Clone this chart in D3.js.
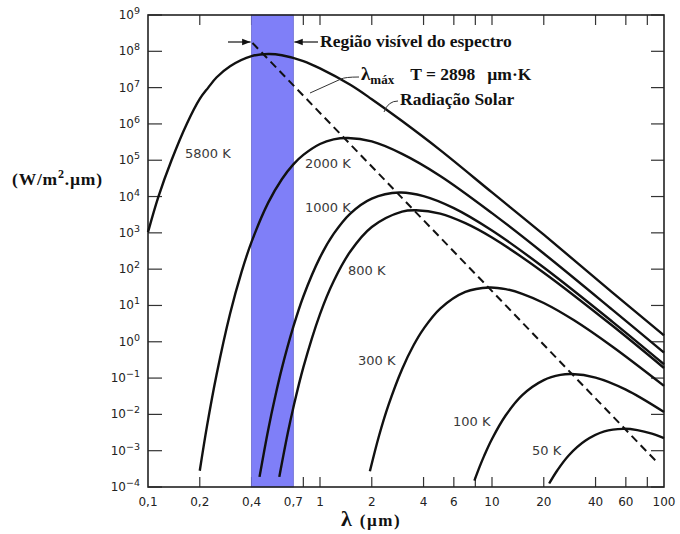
<!DOCTYPE html>
<html>
<head>
<meta charset="utf-8">
<script src="https://cdn.jsdelivr.net/npm/d3@7"></script>
<style>
  body { margin: 0; background: #fff; }
  .tick-lbl { font-family: "DejaVu Sans", sans-serif; font-size: 12px; fill: #222; }
  .curve-lbl { font-family: "DejaVu Sans", sans-serif; font-size: 13px; fill: #3a3a3a; }
  .note { font-family: "Liberation Serif", serif; font-weight: bold; font-size: 17.5px; fill: #111; }
</style>
</head>
<body>
<div class="container"></div>
<script>
// wavelengths (um) and emissive power (W/m2.um)
var lam5800 = [0.1, 0.115, 0.137, 0.168, 0.2, 0.224, 0.25, 0.3, 0.4, 0.5, 0.6, 0.8, 1, 1.5, 2, 3, 5, 10, 20, 50, 100];
var e5800 = [1.05e3, 1e4, 1e5, 1e6, 4.9e6, 1e7, 1.9e7, 3.9e7, 7.4e7, 8.4e7, 7.8e7, 5.4e7, 3.4e7, 1.2e7, 4.8e6, 1.2e6, 1.9e5, 1.3e4, 890, 23, 1.5];

var lam2000 = [0.2, 0.22, 0.25, 0.3, 0.35, 0.4, 0.5, 0.6, 0.7, 0.8, 1, 1.2, 1.45, 2, 3, 5, 10, 20, 50, 100];
var e2000 = [2.8e-4, 4.6e-3, 0.12, 5.9, 84, 565, 6.8e3, 3.0e4, 7.7e4, 1.4e5, 2.8e5, 3.75e5, 4.1e5, 3.3e5, 1.5e5, 3.7e4, 3.5e3, 270, 7.7, 0.5];

var lam1000 = [0.445, 0.5, 0.55, 0.6, 0.7, 0.8, 1, 1.2, 1.5, 2, 2.9, 4, 6, 10, 20, 50, 100];
var e1000 = [1.9e-4, 3.8e-3, 0.032, 0.185, 2.6, 17.7, 211, 933, 3.4e3, 8.8e3, 1.29e4, 1.03e4, 4.8e3, 1.16e3, 111, 3.6, 0.24];

var lam800 = [0.58, 0.65, 0.7, 0.8, 1, 1.2, 1.5, 2, 3, 3.62, 5, 7, 10, 20, 50, 100];
var e800 = [1.9e-4, 3.1e-3, 0.0155, 0.197, 5.8, 46.6, 306, 1.45e3, 3.85e3, 4.2e3, 3.4e3, 1.85e3, 743, 80, 2.8, 0.19];

var lam300 = [1.95, 2.2, 2.5, 3, 3.5, 4, 5, 7, 9.66, 12, 15, 20, 30, 50, 100];
var e300 = [2.7e-4, 2.5e-3, 0.018, 0.176, 0.8, 2.27, 8.2, 23.6, 31.3, 28.2, 21, 11.7, 3.9, 0.74, 0.061];

var lam100 = [7.9, 8.5, 9, 10, 12, 15, 20, 25, 29, 40, 60, 100];
var e100 = [1.5e-4, 3.75e-4, 7.2e-4, 2.1e-3, 9.3e-3, 0.034, 0.088, 0.122, 0.129, 0.103, 0.048, 0.0116];

var lam50 = [21.5, 24, 28, 35, 45, 58, 70, 85, 100];
var e50 = [1.25e-4, 2.9e-4, 7.5e-4, 1.9e-3, 3.4e-3, 4.0e-3, 3.7e-3, 2.96e-3, 2.23e-3];

// Wien displacement line (dashed)
var wienLam = [0.405, 92];
var wienE = [1.7e8, 4.6e-4];

// visible band
var visibleBand = [0.4, 0.7];

var curveNames = ["5800 K", "2000 K", "1000 K", "800 K", "300 K", "100 K", "50 K"];
var xTickLabels = [0.1, 0.2, 0.4, 0.7, 1, 2, 4, 6, 10, 20, 40, 60, 100];
var xTickMarks = [0.2, 0.4, 0.6, 0.8, 1, 2, 4, 6, 8, 10, 20, 40, 60, 80];
var yExponents = [-4, -3, -2, -1, 0, 1, 2, 3, 4, 5, 6, 7, 8, 9];

var svgWidth = 680, svgHeight = 534;
var plot = { left: 148, right: 664, top: 15, bottom: 487 };

var svg = d3.select(".container").append("svg")
    .attr("width", svgWidth)
    .attr("height", svgHeight);

var x = d3.scaleLog().domain([0.1, 100]).range([plot.left, plot.right]);
var y = d3.scaleLog().domain([1e-4, 1e9]).range([plot.bottom, plot.top]);

// ticks (inward)
var tickG = svg.append("g").attr("stroke", "#333").attr("stroke-width", 1.2);
yExponents.forEach(function (p) {
    var yy = y(Math.pow(10, p));
    tickG.append("line").attr("x1", plot.left).attr("x2", plot.left + 14).attr("y1", yy).attr("y2", yy);
    tickG.append("line").attr("x1", plot.right - 13).attr("x2", plot.right).attr("y1", yy).attr("y2", yy);
});
xTickMarks.forEach(function (v) {
    var xx = x(v);
    tickG.append("line").attr("x1", xx).attr("x2", xx).attr("y1", plot.bottom).attr("y2", plot.bottom - 10);
    tickG.append("line").attr("x1", xx).attr("x2", xx).attr("y1", plot.top).attr("y2", plot.top + 10);
});

// visible region
svg.append("rect")
    .attr("x", x(visibleBand[0]))
    .attr("y", plot.top)
    .attr("width", x(visibleBand[1]) - x(visibleBand[0]))
    .attr("height", plot.bottom - plot.top)
    .attr("fill", "#7f7ff8")
    .attr("stroke", "#6a6ad0")
    .attr("stroke-width", 0.8);

// frame
svg.append("rect")
    .attr("x", plot.left).attr("y", plot.top)
    .attr("width", plot.right - plot.left).attr("height", plot.bottom - plot.top)
    .attr("fill", "none").attr("stroke", "#222").attr("stroke-width", 1.6);

// y tick labels 10^n
yExponents.forEach(function (p) {
    var t = svg.append("text").attr("class", "tick-lbl")
        .attr("x", 140).attr("y", y(Math.pow(10, p)) + 4)
        .attr("text-anchor", "end");
    t.append("tspan").text("10");
    t.append("tspan").attr("dy", -5).attr("font-size", "9.5px")
        .text(p < 0 ? "\u2212" + (-p) : String(p));
});

// x tick labels
xTickLabels.forEach(function (v) {
    svg.append("text").attr("class", "tick-lbl")
        .attr("x", x(v)).attr("y", 506)
        .attr("text-anchor", "middle")
        .text(String(v).replace(".", ","));
});

// axis titles
svg.append("text").attr("class", "note")
    .attr("x", 12).attr("y", 185).attr("font-size", "18.5px").attr("letter-spacing", "0.8px")
    .html("(W/m<tspan dy='-7' font-size='12px'>2</tspan><tspan dy='7'>.\u00b5m)</tspan>");

var xt = svg.append("text").attr("class", "note").attr("x", 341).attr("y", 526);
xt.append("tspan").attr("font-size", "22px").text("\u03bb");
xt.append("tspan").attr("font-size", "17px").attr("dx", 8).attr("letter-spacing", "1.5px").text("(\u00b5m)");

// Planck curves
var line = d3.line()
    .x(function (d) { return x(d[0]); })
    .y(function (d) { return y(d[1]); })
    .curve(d3.curveCatmullRom.alpha(0.5));

var curves = [
    [lam5800, e5800], [lam2000, e2000], [lam1000, e1000], [lam800, e800],
    [lam300, e300], [lam100, e100], [lam50, e50]
];

svg.append("g").selectAll("path")
    .data(curves)
    .enter()
    .append("path")
    .attr("d", function (c) { return line(d3.zip(c[0], c[1])); })
    .attr("fill", "none")
    .attr("stroke", "#111")
    .attr("stroke-width", 2.4);

// Wien line
svg.append("path")
    .attr("d", d3.line().x(function (d) { return x(d[0]); }).y(function (d) { return y(d[1]); })(d3.zip(wienLam, wienE)))
    .attr("fill", "none")
    .attr("stroke", "#111")
    .attr("stroke-width", 2)
    .attr("stroke-dasharray", "8,5");

// curve labels
var labelPos = [[185, 158], [305, 168], [305, 212], [348, 275], [358, 365], [453, 426], [532, 455]];
curveNames.forEach(function (n, i) {
    svg.append("text").attr("class", "curve-lbl")
        .attr("x", labelPos[i][0]).attr("y", labelPos[i][1])
        .text(n);
});

// annotations
var defs = svg.append("defs");
defs.append("marker").attr("id", "ah")
    .attr("viewBox", "0 0 10 10").attr("refX", 10).attr("refY", 5)
    .attr("markerWidth", 7).attr("markerHeight", 7).attr("orient", "auto")
    .append("path").attr("d", "M0,1 L10,5 L0,9 Z").attr("fill", "#111");

svg.append("line").attr("x1", 228).attr("x2", x(visibleBand[0]) - 1).attr("y1", 42).attr("y2", 42)
    .attr("stroke", "#111").attr("stroke-width", 1.2).attr("marker-end", "url(#ah)");
svg.append("line").attr("x1", 318).attr("x2", x(visibleBand[1]) + 1).attr("y1", 42).attr("y2", 42)
    .attr("stroke", "#111").attr("stroke-width", 1.2).attr("marker-end", "url(#ah)");

svg.append("text").attr("class", "note").attr("x", 320).attr("y", 47)
    .text("Regi\u00e3o vis\u00edvel do espectro");

svg.append("path").attr("d", "M310,93 L341,79 Q345,77 359,77")
    .attr("fill", "none").attr("stroke", "#333").attr("stroke-width", 1);
var lt = svg.append("text").attr("class", "note").attr("x", 361).attr("y", 80);
lt.append("tspan").attr("font-size", "19px").text("\u03bb");
lt.append("tspan").attr("dy", 4).attr("font-size", "13px").text("m\u00e1x");
lt.append("tspan").attr("dy", -4).attr("dx", 16).text("T = 2898");
lt.append("tspan").attr("dx", 12).text("\u00b5m\u00b7K");

svg.append("path").attr("d", "M384,112 Q388,101 398,101")
    .attr("fill", "none").attr("stroke", "#333").attr("stroke-width", 1);
svg.append("text").attr("class", "note").attr("x", 400).attr("y", 105)
    .text("Radia\u00e7\u00e3o Solar");
</script>
</body>
</html>
